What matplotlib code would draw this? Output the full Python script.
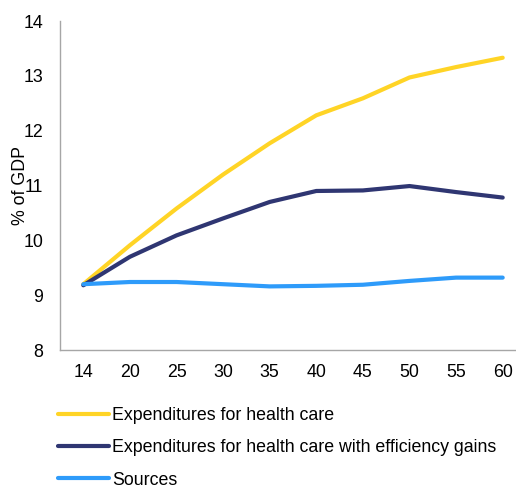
import numpy as np
import matplotlib
matplotlib.use('Agg')
import matplotlib.pyplot as plt

# ── Data ─────────────────────────────────────────────────────────────────────
years = ['14', '20', '25', '30', '35', '40', '45', '50', '55', '60']
health_care = [9.20, 9.91, 10.58, 11.20, 11.77, 12.28, 12.59, 12.97, 13.16, 13.33]
health_eff  = [9.18, 9.70, 10.09, 10.40, 10.70, 10.90, 10.91, 10.99, 10.88, 10.78]
sources     = [9.20, 9.24, 9.24, 9.20, 9.16, 9.17, 9.19, 9.26, 9.32, 9.32]
labels = ['Expenditures for health care',
          'Expenditures for health care with efficiency gains',
          'Sources']

YELLOW = '#FFD426'
NAVY   = '#2F3672'
BLUE   = '#2E9BFA'
AXIS   = '#A6A6A6'

plt.rcParams.update({
    'font.family': ['Liberation Sans', 'DejaVu Sans'],
    'font.size': 12.8,
})

fig = plt.figure(figsize=(5.16, 4.86), dpi=100)
ax = fig.add_axes([60 / 516, 1 - 350 / 486, 466 / 516, 329 / 486])

x = np.arange(len(years))
for vals, col, lab in zip([health_care, health_eff, sources],
                          [YELLOW, NAVY, BLUE], labels):
    ax.plot(x, vals, color=col, linewidth=3.0, label=lab,
            solid_capstyle='round', solid_joinstyle='round')

ax.set_xlim(-0.5, len(years) - 0.5)
ax.set_ylim(8, 14)
ax.set_xticks(x)
ax.set_xticklabels(years)
ax.set_yticks(range(8, 15))
ax.tick_params(length=0, labelsize=12.8, colors='#000000')
ax.tick_params(axis='y', pad=12)
ax.tick_params(axis='x', pad=10)
for s in ['top', 'right']:
    ax.spines[s].set_visible(False)
for s in ['left', 'bottom']:
    ax.spines[s].set_color(AXIS)
    ax.spines[s].set_linewidth(1.0)

ax.set_ylabel('% of GDP', fontsize=12.8)
ax.yaxis.set_label_coords(-0.066, 0.5)

ax.legend(loc='upper left', bbox_to_anchor=(58 / 516, 1 - 407 / 486),
          bbox_transform=fig.transFigure, frameon=False, fontsize=12.8,
          handlelength=2.85, handletextpad=0.2, labelspacing=0.86,
          borderpad=0, borderaxespad=0)

fig.savefig('out.png', dpi=100)
